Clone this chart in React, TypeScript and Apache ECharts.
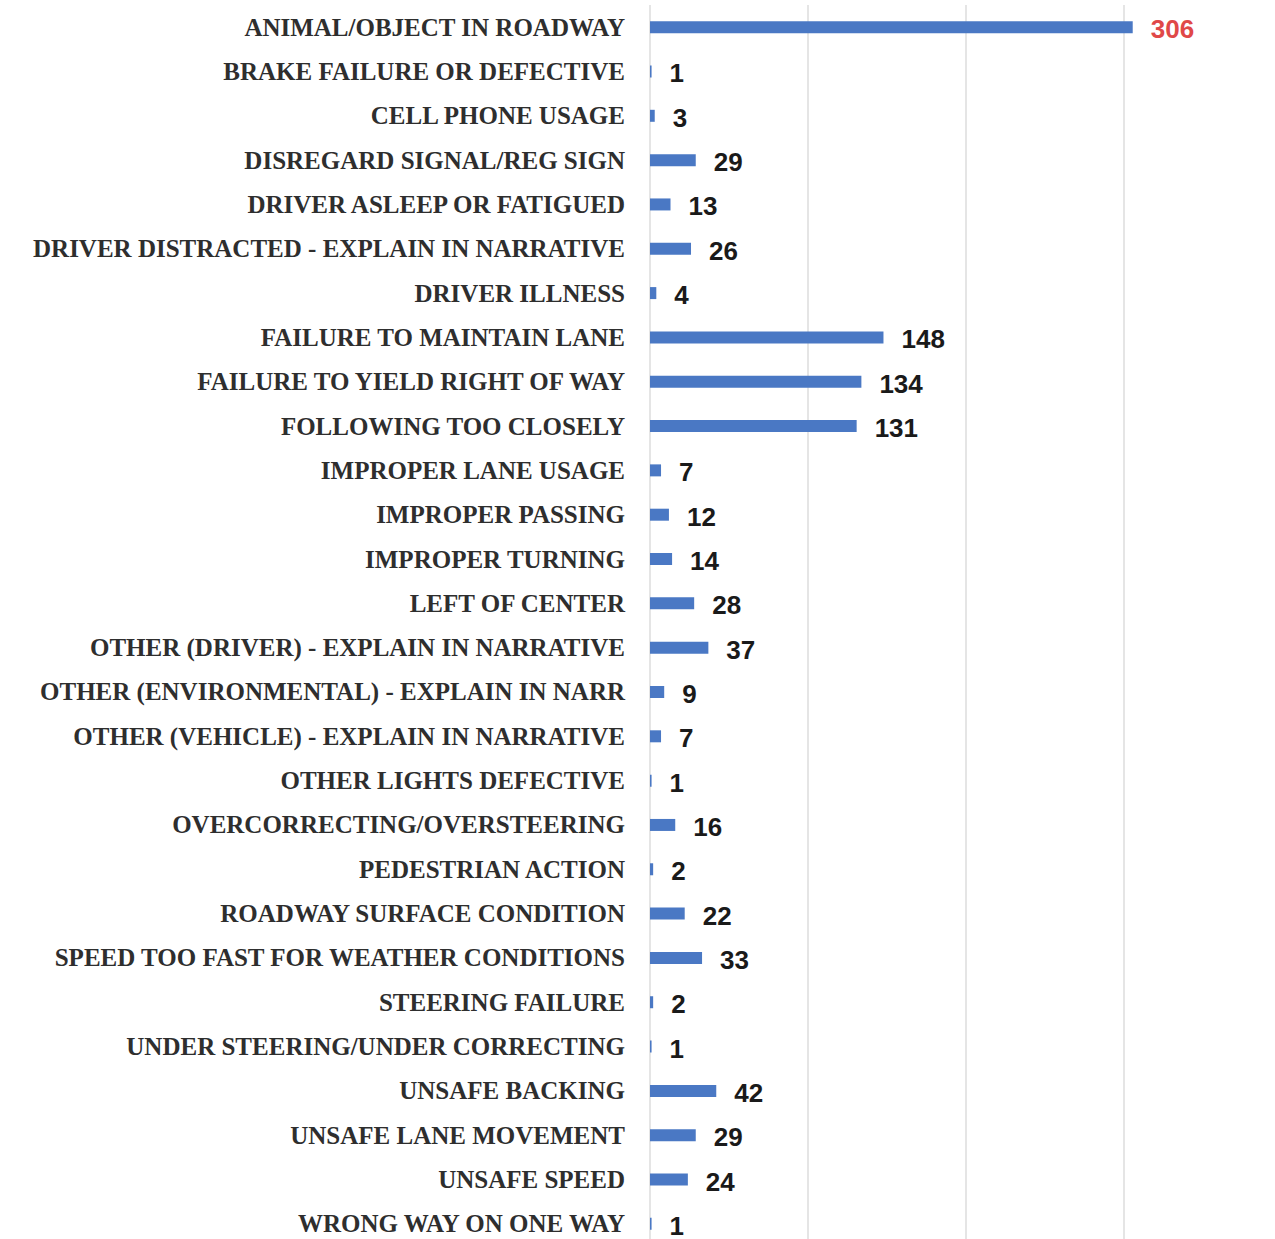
import React, { useEffect, useRef } from "react";
import * as echarts from "echarts";

const categories = [
  "ANIMAL/OBJECT IN ROADWAY",
  "BRAKE FAILURE OR DEFECTIVE",
  "CELL PHONE USAGE",
  "DISREGARD SIGNAL/REG SIGN",
  "DRIVER ASLEEP OR FATIGUED",
  "DRIVER DISTRACTED - EXPLAIN IN NARRATIVE",
  "DRIVER ILLNESS",
  "FAILURE TO MAINTAIN LANE",
  "FAILURE TO YIELD RIGHT OF WAY",
  "FOLLOWING TOO CLOSELY",
  "IMPROPER LANE USAGE",
  "IMPROPER PASSING",
  "IMPROPER TURNING",
  "LEFT OF CENTER",
  "OTHER (DRIVER) - EXPLAIN IN NARRATIVE",
  "OTHER (ENVIRONMENTAL) - EXPLAIN IN NARR",
  "OTHER (VEHICLE) - EXPLAIN IN NARRATIVE",
  "OTHER LIGHTS DEFECTIVE",
  "OVERCORRECTING/OVERSTEERING",
  "PEDESTRIAN ACTION",
  "ROADWAY SURFACE CONDITION",
  "SPEED TOO FAST FOR WEATHER CONDITIONS",
  "STEERING FAILURE",
  "UNDER STEERING/UNDER CORRECTING",
  "UNSAFE BACKING",
  "UNSAFE LANE MOVEMENT",
  "UNSAFE SPEED",
  "WRONG WAY ON ONE WAY",
];

const values = [
  306, 1, 3, 29, 13, 26, 4, 148, 134, 131, 7, 12, 14, 28, 37, 9, 7, 1, 16, 2,
  22, 33, 2, 1, 42, 29, 24, 1,
];

const highlightIndex = 0;

export default function App() {
  const ref = useRef<HTMLDivElement>(null);
  useEffect(() => {
    document.body.style.margin = "0";
    document.body.style.overflow = "hidden";
    document.documentElement.style.overflow = "hidden";
    const chart = echarts.init(ref.current!, null, { renderer: "svg" });
    chart.setOption({
      animation: false,
      backgroundColor: "#ffffff",
      grid: { left: 650, right: 0, top: 5, bottom: 0, containLabel: false },
      xAxis: {
        type: "value",
        min: 0,
        max: 400,
        interval: 100,
        axisLabel: { show: false },
        axisLine: { show: false },
        axisTick: { show: false },
        splitLine: { show: true, lineStyle: { color: "#dcdcdc", width: 1.5 } },
      },
      yAxis: {
        type: "category",
        inverse: true,
        data: categories,
        axisLine: { show: false },
        axisTick: { show: false },
        axisLabel: {
          margin: 25,
          color: "#2e2e2e",
          fontFamily: "Liberation Serif",
          fontWeight: "bold",
          fontSize: 25,
        },
      },
      series: [
        {
          type: "bar",
          data: values.map((v, i) => ({
            value: v,
            label: i === highlightIndex ? { color: "#e04848" } : undefined,
          })),
          barWidth: 12,
          itemStyle: { color: "#4a78c4" },
          label: {
            show: true,
            position: "right",
            distance: 18,
            color: "#1a1a1a",
            fontFamily: "Liberation Sans",
            fontWeight: "bold",
            fontSize: 26,
            offset: [0, 2],
          },
        },
      ],
    });
    return () => chart.dispose();
  }, []);
  return <div ref={ref} style={{ width: 1281, height: 1246 }} />;
}
